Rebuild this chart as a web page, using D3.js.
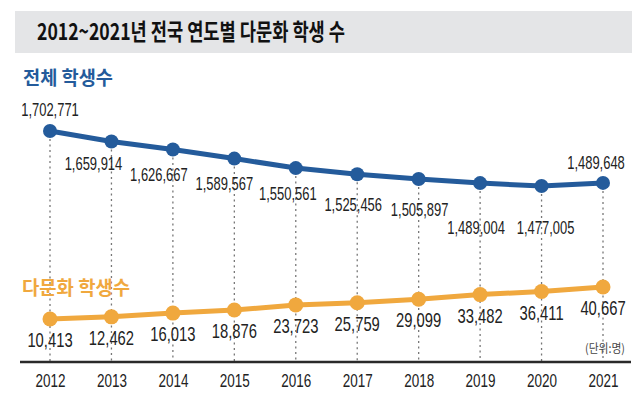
<!DOCTYPE html>
<html>
<head>
<meta charset="utf-8">
<script src="https://cdn.jsdelivr.net/npm/d3@7"></script>
<style>
  body { margin: 0; background: #fff; }
  svg { display: block; }
  .num { font-family: "Liberation Sans", Arial, sans-serif; font-weight: 400; fill: #222; }
  .kr { font-family: "Noto Sans CJK KR", sans-serif; }
</style>
</head>
<body>
<div id="chart"></div>
<script>
// data
var years = ["2012", "2013", "2014", "2015", "2016", "2017", "2018", "2019", "2020", "2021"];
var totalStudents = [1702771, 1659914, 1626667, 1589567, 1550561, 1525456, 1505897, 1489004, 1477005, 1489648];
var multiStudents = [10413, 12462, 16013, 18876, 23723, 25759, 29099, 33482, 36411, 40667];

// label nudges for the blue numbers (layout only)
var blueNudge = [[0, -15], [-18, 29], [-14, 31], [-10, 31], [-8, 32], [-4, 37], [1, 37], [-4, 51], [4, 48], [-7, -14]];

var width = 640, height = 398;
var blue = "#245b9b", orange = "#f0a83e";

var svg = d3.select("#chart").append("svg")
    .attr("width", width)
    .attr("height", height);

// place a text at (x, y) squeezed horizontally so it reads as a condensed face
function squeezeAt(fx, fy, k) {
    return function (sel) {
        sel.attr("x", 0).attr("y", 0)
            .attr("transform", function (d, i) {
                return "translate(" + fx(d, i) + "," + fy(d, i) + ") scale(" + k + ",1)";
            });
    };
}

// title band
svg.append("rect")
    .attr("x", 15).attr("y", 11)
    .attr("width", 617).attr("height", 42)
    .attr("fill", "#e4e5e7");
svg.append("text")
    .attr("class", "kr")
    .attr("x", 37).attr("y", 40)
    .attr("font-size", 23)
    .attr("font-weight", 700)
    .attr("fill", "#111")
    .attr("textLength", 308)
    .attr("lengthAdjust", "spacingAndGlyphs")
    .text("2012~2021년 전국 연도별 다문화 학생 수");

// scales
var x = d3.scalePoint().domain(years).range([50, 603]);
var yTotal = d3.scaleLinear().domain([1477005, 1702771]).range([186, 131]);
var yMulti = d3.scaleLinear().domain([10413, 40667]).range([319, 287]);
var axisY = 362;

// dotted guides
svg.append("g").selectAll("line")
    .data(years)
    .enter()
    .append("line")
    .attr("x1", function (d) { return x(d); })
    .attr("x2", function (d) { return x(d); })
    .attr("y1", function (d, i) { return yTotal(totalStudents[i]) + 8; })
    .attr("y2", axisY)
    .attr("stroke", "#777")
    .attr("stroke-width", 1.3)
    .attr("stroke-dasharray", "2,3.5");

// axis
var axis = svg.append("g")
    .attr("transform", "translate(0," + axisY + ")")
    .call(d3.axisBottom(x).tickSize(0).tickPadding(12));
axis.select(".domain").remove();
axis.append("line")
    .attr("x1", 20).attr("x2", 631)
    .attr("stroke", "#2a2a2a")
    .attr("stroke-width", 2.5);
axis.selectAll(".tick text")
    .attr("class", "num")
    .attr("font-size", 18)
    .attr("dy", "0.71em")
    .attr("fill", "#222")
    .call(squeezeAt(function () { return 0; }, function () { return 12; }, 0.75));

// series lines
var lineTotal = d3.line()
    .x(function (d, i) { return x(years[i]); })
    .y(function (d) { return yTotal(d); });
var lineMulti = d3.line()
    .x(function (d, i) { return x(years[i]); })
    .y(function (d) { return yMulti(d); });

svg.append("path")
    .datum(totalStudents)
    .attr("d", lineTotal)
    .attr("fill", "none")
    .attr("stroke", blue)
    .attr("stroke-width", 5);
svg.append("path")
    .datum(multiStudents)
    .attr("d", lineMulti)
    .attr("fill", "none")
    .attr("stroke", orange)
    .attr("stroke-width", 5);

svg.append("g").selectAll("circle")
    .data(totalStudents)
    .enter()
    .append("circle")
    .attr("cx", function (d, i) { return x(years[i]); })
    .attr("cy", function (d) { return yTotal(d); })
    .attr("r", 7)
    .attr("fill", blue);
svg.append("g").selectAll("circle")
    .data(multiStudents)
    .enter()
    .append("circle")
    .attr("cx", function (d, i) { return x(years[i]); })
    .attr("cy", function (d) { return yMulti(d); })
    .attr("r", 7.5)
    .attr("fill", orange);

// value labels
var fmt = d3.format(",");
svg.append("g").selectAll("text")
    .data(totalStudents)
    .enter()
    .append("text")
    .attr("class", "num")
    .attr("font-size", 18)
    .attr("text-anchor", "middle")
    .text(function (d) { return fmt(d); })
    .call(squeezeAt(
        function (d, i) { return x(years[i]) + blueNudge[i][0]; },
        function (d, i) { return yTotal(d) + blueNudge[i][1]; },
        0.72));
svg.append("g").selectAll("text")
    .data(multiStudents)
    .enter()
    .append("text")
    .attr("class", "num")
    .attr("font-size", 20)
    .attr("text-anchor", "middle")
    .text(function (d) { return fmt(d); })
    .call(squeezeAt(
        function (d, i) { return x(years[i]); },
        function (d) { return yMulti(d) + 28; },
        0.74));

// series titles
svg.append("text")
    .attr("class", "kr")
    .attr("x", 23).attr("y", 85)
    .attr("font-size", 19)
    .attr("font-weight", 700)
    .attr("fill", blue)
    .attr("textLength", 90)
    .attr("lengthAdjust", "spacingAndGlyphs")
    .text("전체 학생수");
svg.append("text")
    .attr("class", "kr")
    .attr("x", 22).attr("y", 295)
    .attr("font-size", 19)
    .attr("font-weight", 700)
    .attr("fill", orange)
    .attr("textLength", 108)
    .attr("lengthAdjust", "spacingAndGlyphs")
    .text("다문화 학생수");

// unit note
svg.append("text")
    .attr("class", "kr")
    .attr("x", 605).attr("y", 353)
    .attr("text-anchor", "middle")
    .attr("font-size", 12)
    .attr("fill", "#444")
    .attr("textLength", 40)
    .attr("lengthAdjust", "spacingAndGlyphs")
    .text("(단위:명)");
</script>
</body>
</html>
